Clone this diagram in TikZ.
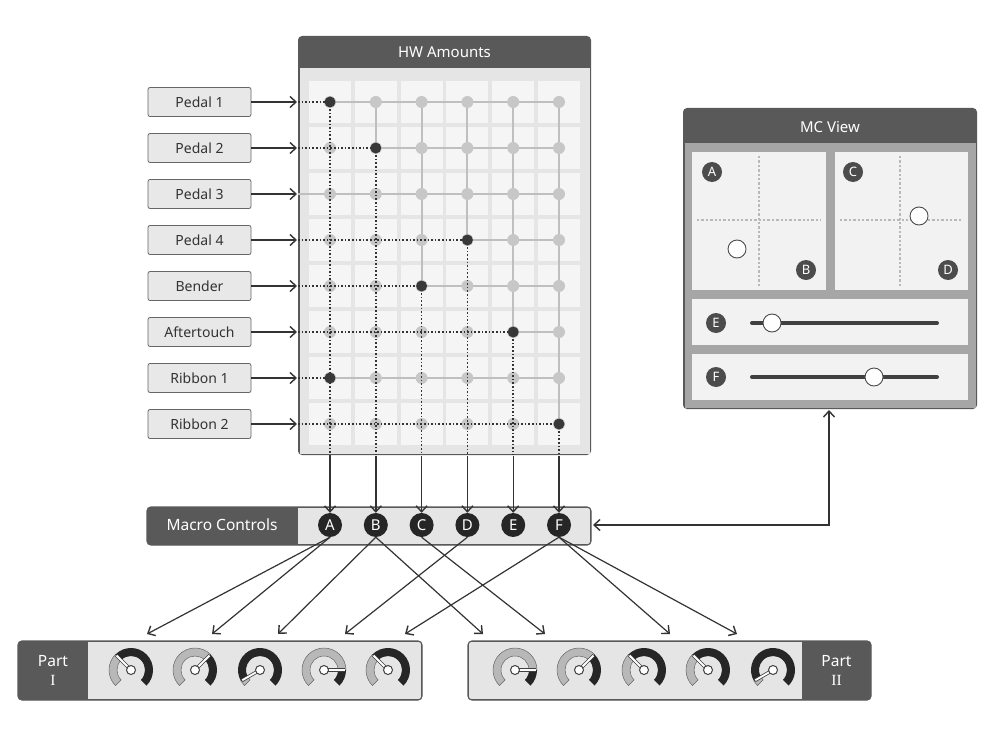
\documentclass[tikz,border=0pt]{standalone}
\usepackage{fontspec}
\usetikzlibrary{arrows.meta}
\setmainfont{Noto Sans}
\newfontfamily\numfont{Liberation Serif}
\begin{document}
\begin{tikzpicture}[x=1pt,y=-1pt,
  lbl/.style={draw=gray!80!black,line width=0.8pt,fill=black!9,rounded corners=2pt,minimum width=103pt,minimum height=29pt,inner sep=0pt,font=\fontsize{14}{16}\selectfont,text=black!80},
  arr/.style={->,>={Straight Barb[length=6pt,width=11pt,line width=1.4pt]},line width=1.4pt,draw=black!80},
  mc/.style={circle,fill=black!85,text=white,inner sep=0pt,minimum size=24pt,font=\bfseries\fontsize{15}{15}\selectfont},
  sm/.style={circle,fill=black!70,text=white,inner sep=0pt,minimum size=20pt,font=\bfseries\fontsize{13}{13}\selectfont},
  hdr/.style={text=white,font=\fontsize{15}{17}\selectfont},
  gd/.style={circle,fill=black!22,inner sep=0pt,minimum size=12pt},
  ad/.style={circle,fill=black!78,inner sep=0pt,minimum size=11pt},
  sol/.style={draw=black!25,line width=2pt},
  dott/.style={draw=black!80,line width=1.6pt,dotted},
  hand/.style={circle,draw=black!70,line width=0.9pt,fill=white,inner sep=0pt,minimum size=18pt}]
\useasboundingbox (0,0) rectangle (992,733);
% ---------- HW Amounts panel
\fill[black!65,rounded corners=4pt] (298,36) rectangle (591,455);
\fill[black!10] (299.5,68) rectangle (589.5,453.5);
\node[hdr] (hw) at (444.5,52) {HW Amounts};
\foreach \c in {0,...,5}{\foreach \r in {0,...,7}{
  \fill[black!4] (330+\c*45.8-21,102+\r*46-21) rectangle ++(42,42);}}
% solid horizontal grid
\foreach \r/\a in {0/0,1/1,2/-1,3/3,4/2,5/4,6/0,7/5}{
  \pgfmathsetmacro\ya{102+\r*46}
  \ifnum\a<0
    \draw[sol] (298,\ya) -- (559,\ya);
  \else
    \draw[sol] (330+\a*45.8,\ya) -- (559,\ya);
  \fi}
% solid vertical grid (from top row to active row)
\foreach \c/\r in {0/0,1/1,2/4,3/3,4/5,5/7}{
  \draw[sol] (330+\c*45.8,102) -- (330+\c*45.8,102+\r*46);}
% dots
\foreach \c in {0,...,5}{\foreach \r in {0,...,7}{
  \node[gd] at (330+\c*45.8,102+\r*46) {};}}
% dotted horizontals
\foreach \r/\a in {0/0,1/1,3/3,4/2,5/4,6/0,7/5}{
  \draw[dott] (298,102+\r*46) -- (330+\a*45.8,102+\r*46);}
% dotted verticals
\foreach \c/\r in {0/0,1/1,2/4,3/3,4/5,5/7}{
  \draw[dott] (330+\c*45.8,102+\r*46) -- (330+\c*45.8,455);}
% active dots
\foreach \c/\r in {0/0,1/1,2/4,3/3,4/5,5/7,0/6}{
  \node[ad] at (330+\c*45.8,102+\r*46) {};}
% ---------- labels
\foreach \t [count=\i from 0] in {Pedal 1,Pedal 2,Pedal 3,Pedal 4,Bender,Aftertouch,Ribbon 1,Ribbon 2}{
  \node[lbl] (l\i) at (199.5,102+\i*46) {\t};
  \coordinate (e\i) at (297,102+\i*46);
  \draw[arr] (l\i.east) -- (e\i);}
% ---------- Macro Controls
\fill[black!65,rounded corners=4pt] (147,507) rectangle (591,545);
\fill[black!10] (298,508.3) rectangle (589.7,543.7);
\draw[black!65,line width=1.2pt,rounded corners=4pt] (147,507) rectangle (591,545);
\node[hdr,font=\fontsize{15.5}{17}\selectfont] (mcl) at (222,525) {Macro Controls};
\foreach \t [count=\i from 0] in {A,B,C,D,E,F}{
  \node[mc] (m\t) at (330+\i*45.8,525) {\t};
  \coordinate (t\t) at (330+\i*45.8,456);
  \draw[arr] (t\t) -- (m\t.north);}
% ---------- Parts
\fill[black!65,rounded corners=4pt] (18,641) rectangle (422,700);
\fill[black!10] (88,642.3) rectangle (420.7,698.7);
\draw[black!65,line width=1.2pt,rounded corners=4pt] (18,641) rectangle (422,700);
\node[hdr,align=center,font=\fontsize{15.5}{19}\selectfont] (p1) at (53,670.5) {Part\\{\numfont I}};
\fill[black!65,rounded corners=4pt] (468,641) rectangle (871,700);
\fill[black!10] (469.3,642.3) rectangle (802,698.7);
\draw[black!65,line width=1.2pt,rounded corners=4pt] (468,641) rectangle (871,700);
\node[hdr,align=center,font=\fontsize{15.5}{19}\selectfont] (p2) at (836.5,670.5) {Part\\{\numfont II}};
% knobs (angles negated because y points down)
\foreach \x/\v [count=\k] in {131/135,195/45,260/210,324/0,388/135,515/0,579/45,644/135,708/135,773/210}{
  \coordinate (k\k) at (\x,670);
  \begin{scope}[shift={(\x,670)}]
  \fill[black!28,draw=black!60,line width=0.5pt] (-225:22) arc[start angle=-225,end angle=-\v,radius=22] -- (-\v:14) arc[start angle=-\v,end angle=-225,radius=14] -- cycle;
  \fill[black!85] (-\v:22) arc[start angle=-\v,end angle=45,radius=22] -- (45:14) arc[start angle=45,end angle=-\v,radius=14] -- cycle;
  \draw[black!75,line width=3.4pt] (0,0) -- (-\v:21);
  \draw[white,line width=1.8pt] (0,0) -- (-\v:20.5);
  \draw[black!75,fill=white,line width=1pt] (0,0) circle (4.5);
  \end{scope}}
% connectors from macros to knob targets
\foreach \s/\tx in {A/147,A/212,B/278,B/483,C/545,D/345,F/405,F/670,F/737}{
  \coordinate (d\s\tx) at (\tx,634);
  \draw[arr,line width=1.2pt] (m\s.south) -- (d\s\tx);}
% ---------- MC View
\fill[black!65,rounded corners=4pt] (683,108) rectangle (977,409);
\fill[black!35] (684.5,143) rectangle (975.5,407.5);
\node[hdr] (mcv) at (830,127) {MC View};
\fill[black!5] (692,152) rectangle (826,290);
\fill[black!5] (835,152) rectangle (968,290);
\fill[black!5] (692,299) rectangle (968,345);
\fill[black!5] (692,354) rectangle (968,400);
\draw[black!28,line width=2.4pt,dotted] (759,156) -- (759,286) (697,220) -- (821,220);
\draw[black!28,line width=2.4pt,dotted] (900,156) -- (900,286) (840,220) -- (963,220);
\node[sm] (sA) at (712,172) {A};
\node[sm] (sB) at (806,270) {B};
\node[sm] (sC) at (853,172) {C};
\node[sm] (sD) at (948,270) {D};
\node[hand] (h1) at (737,249) {};
\node[hand] (h2) at (919,216) {};
\node[sm] (sE) at (716,323) {E};
\node[sm] (sF) at (716,377) {F};
\draw[black!75,line width=4pt,line cap=round] (752,323) -- (937,323);
\draw[black!75,line width=4pt,line cap=round] (752,377) -- (937,377);
\node[hand] (h3) at (772,323) {};
\node[hand] (h4) at (874,377) {};
% MC link
\coordinate (mcb) at (829,410);
\coordinate (mcc) at (829,525);
\coordinate (mce) at (593,525);
\draw[arr,<->] (mcb) -- (mcc) -- (mce);
\end{tikzpicture}
\end{document}
